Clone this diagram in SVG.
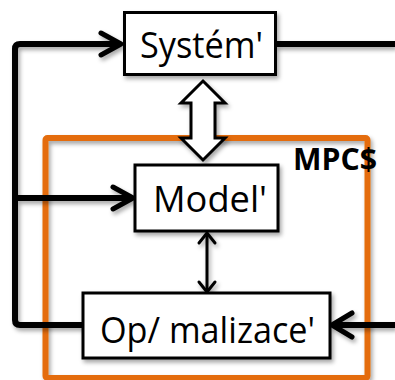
<svg xmlns="http://www.w3.org/2000/svg" width="395" height="380" viewBox="0 0 395 380">
  <defs>
    <filter id="sh" x="-20%" y="-20%" width="140%" height="150%">
      <feDropShadow dx="2" dy="3" stdDeviation="2" flood-color="#000" flood-opacity="0.35"/>
    </filter>
  </defs>
  <style>
    .box { fill: #fff; stroke: #000; stroke-width: 3; filter: url(#sh); }
    .lbl { font-family: "Open Sans", "Noto Sans", sans-serif; font-size: 36px; fill: #000; text-anchor: middle; }
    .wire { fill: none; stroke: #000; stroke-width: 6; stroke-linejoin: round; stroke-linecap: butt; }
    .head { fill: none; stroke: #000; stroke-width: 5; stroke-linejoin: round; stroke-linecap: round; }
    .thin { fill: none; stroke: #000; stroke-width: 3; stroke-linejoin: round; stroke-linecap: round; }
  </style>
  <rect width="395" height="380" fill="#fff"/>

  <g id="mpc">
    <rect x="45.5" y="138" width="322" height="240" rx="2" fill="none" stroke="#E46C0A" stroke-width="6" filter="url(#sh)"/>
    <text x="293" y="170" font-family="'Open Sans', 'Noto Sans', sans-serif" font-size="30" font-weight="bold" textLength="84" lengthAdjust="spacingAndGlyphs">MPC$</text>
  </g>

  <g id="connectors" filter="url(#sh)">
    <path class="wire" d="M 121 44 H 20 Q 15 44 15 49 V 320 Q 15 325 20 325 H 84"/>
    <path class="head" d="M 101 33 L 121 44 L 101 55"/>
    <path class="wire" d="M 15 198 H 133"/>
    <path class="head" d="M 113 187 L 133 198 L 113 209"/>
    <path class="wire" d="M 276 44 H 395"/>
    <path class="wire" d="M 395 325 H 333"/>
    <path class="head" d="M 352 313 L 332 325 L 352 337"/>
    <path class="thin" d="M 207 234 V 291"/>
    <path class="thin" d="M 199 243 L 207 233 L 215 243"/>
    <path class="thin" d="M 199 282 L 207 292 L 215 282"/>
    <polygon points="203,81 225,103 215,103 215,138 225,138 203,160 181,138 191,138 191,103 181,103" fill="#fff" stroke="#000" stroke-width="3" stroke-linejoin="miter"/>
  </g>

  <g id="system">
    <rect class="box" x="124.5" y="12.5" width="151" height="62"/>
    <text class="lbl" x="201.5" y="58" textLength="123" lengthAdjust="spacingAndGlyphs">Systém'</text>
  </g>

  <g id="model">
    <rect class="box" x="135" y="165" width="143" height="66"/>
    <text class="lbl" x="210" y="212" textLength="114" lengthAdjust="spacingAndGlyphs">Model'</text>
  </g>

  <g id="optimalizace">
    <rect class="box" x="83" y="293" width="247" height="65"/>
    <text class="lbl" x="207.5" y="343" textLength="215" lengthAdjust="spacingAndGlyphs">Op/ malizace'</text>
  </g>
</svg>
